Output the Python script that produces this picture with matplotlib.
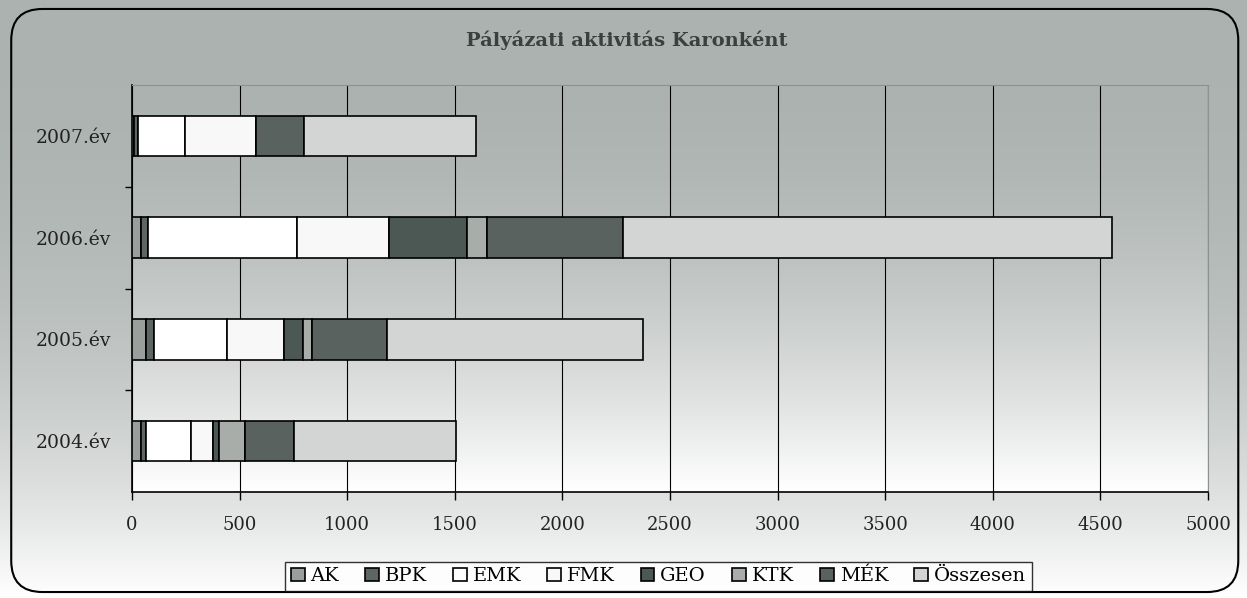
import numpy as np
import matplotlib.pyplot as plt
from matplotlib.patches import FancyBboxPatch

years = ['2004.év', '2005.év', '2006.év', '2007.év']
faculties = ['AK', 'BPK', 'EMK', 'FMK', 'GEO', 'KTK', 'MÉK', 'Összesen']
ak = [40, 66, 43, 10]
bpk = [25, 35, 30, 18]
emk = [207, 341, 695, 217]
fmk = [106, 265, 426, 332]
geo = [24, 86, 361, 0]
ktk = [123, 45, 96, 0]
mek = [227, 349, 629, 220]
osszesen = [753, 1189, 2276, 800]

colors = ['#9a9f9c', '#5d6662', '#ffffff', '#f7f8f7', '#4c5853',
          '#a9adaa', '#59625e', '#d2d5d3']

plt.rcParams['font.family'] = ['DejaVu Serif']

fig = plt.figure(figsize=(12.47, 5.98), dpi=100)

# background gradient for the whole chart area
bg = fig.add_axes([0, 0, 1, 1], zorder=-10)
g0 = np.array([0.675, 0.70, 0.69])
grad = np.linspace(0, 1, 300) ** 2.6
img = g0 + (1 - g0) * grad[:, None, None]
img = np.repeat(img, 2, axis=1)
bg.imshow(img, aspect='auto', extent=[0, 1, 0, 1], origin='upper')
bg.set_xlim(0, 1)
bg.set_ylim(0, 1)
bg.axis('off')
bg.add_patch(FancyBboxPatch((0.009, 0.01), 0.984, 0.975,
                            boxstyle='round,pad=0,rounding_size=0.025',
                            transform=bg.transAxes, fill=False,
                            edgecolor='black', lw=1.5, mutation_aspect=2.1))

ax = fig.add_axes([132 / 1247, 1 - 492 / 598, 1076 / 1247, 407 / 598])
ax.patch.set_alpha(0)

# plot area gradient
pg = np.linspace(0, 1, 300) ** 1.8
pimg = g0 + (1 - g0) * pg[:, None, None]
pimg = np.repeat(pimg, 2, axis=1)
ax.imshow(pimg, aspect='auto', extent=[0, 5000, -0.5, 3.5], origin='upper', zorder=0)

series = [ak, bpk, emk, fmk, geo, ktk, mek, osszesen]
y = np.arange(len(years))
left = np.zeros(len(years))
handles = []
for name, vals, c in zip(faculties, series, colors):
    vals = np.array(vals, dtype=float)
    b = ax.barh(y, vals, left=left, height=0.4, color=c, edgecolor='black',
                linewidth=1.2, label=name, zorder=3)
    handles.append(b)
    left += vals

ax.set_xlim(0, 5000)
ax.set_ylim(-0.5, 3.5)
ax.set_xticks(np.arange(0, 5001, 500))
ax.set_yticks(y)
ax.set_yticklabels(years)
ax.set_yticks([0.5, 1.5, 2.5], minor=True)
ax.xaxis.grid(True, color='black', lw=0.8, zorder=1)
ax.set_axisbelow(True)
ax.tick_params(axis='y', which='major', length=0, pad=15, labelsize=13.5)
ax.tick_params(axis='y', which='minor', length=5, direction='out', width=1)
ax.tick_params(axis='x', length=6, direction='out', width=1, pad=11, labelsize=13)
for lbl in ax.get_xticklabels() + ax.get_yticklabels():
    lbl.set_color('#222222')
ax.spines['left'].set_linewidth(1.2)
ax.spines['bottom'].set_linewidth(1.2)
ax.spines['top'].set_color('#8c928f')
ax.spines['right'].set_color('#8c928f')
ax.spines['top'].set_linewidth(0.8)
ax.spines['right'].set_linewidth(0.8)

fig.text(0.503, 0.933, 'Pályázati aktivitás Karonként', ha='center', va='center',
         fontsize=14, fontweight='bold', color='#3b403e')

leg = fig.legend(handles, faculties, loc='center', bbox_to_anchor=(0.528, 0.036),
                 ncol=8, frameon=True, fancybox=False, fontsize=14,
                 handlelength=0.7, handleheight=0.7, handletextpad=0.3,
                 columnspacing=1.35, borderpad=0.3)
leg.get_frame().set_edgecolor('black')
leg.get_frame().set_linewidth(1.0)
leg.get_frame().set_facecolor('white')

fig.savefig('out.png', dpi=100)
